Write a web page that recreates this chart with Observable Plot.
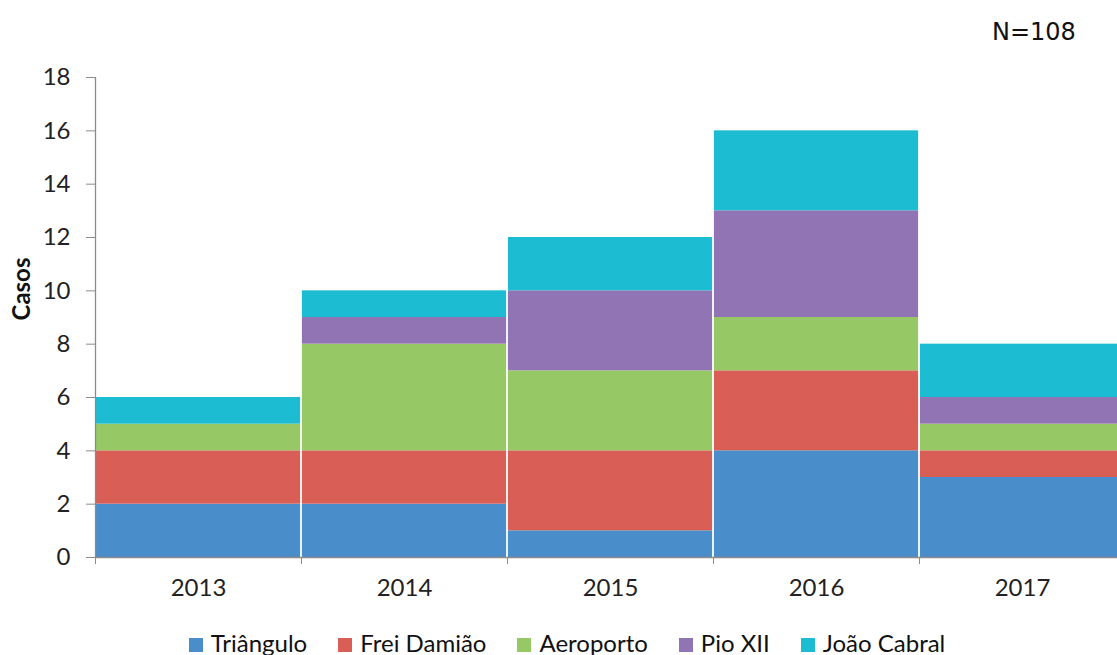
<!DOCTYPE html>
<html><head><meta charset="utf-8">
<script src="https://cdn.jsdelivr.net/npm/d3@7"></script>
<script src="https://cdn.jsdelivr.net/npm/@observablehq/plot@0.6"></script>
<style>
html,body{margin:0;padding:0;background:#fff;overflow:hidden;width:1117px;height:655px;}
#wrap{position:relative;width:1117px;height:655px;}
#n{position:absolute;left:992px;top:18px;font:24px "DejaVu Sans",sans-serif;color:#111;}
#legend{position:absolute;left:0;top:624px;width:1134px;height:36px;display:flex;justify-content:center;align-items:center;gap:31px;font:24px Lato,"Open Sans",sans-serif;color:#111;}
#legend span.sw{display:inline-block;width:14px;height:14px;margin-right:8px;vertical-align:0px;}
</style></head>
<body><div id="wrap"><div id="chart"></div><div id="n">N=108</div><div id="legend"></div></div>
<script>
const years = ["2013","2014","2015","2016","2017"];
const bairros = ["Triângulo","Frei Damião","Aeroporto","Pio XII","João Cabral"];
const colors = ["#4a8dcb","#d95f56","#96c966","#9174b3","#1cbdd3"];
const triangulo   = [2,2,1,4,3];
const freiDamiao  = [2,2,3,3,1];
const aeroporto   = [1,4,3,2,1];
const pioXII      = [0,1,3,4,1];
const joaoCabral  = [1,1,2,3,2];
const yTicks = [0,2,4,6,8,10,12,14,16,18];

const series = [triangulo, freiDamiao, aeroporto, pioXII, joaoCabral];
const data = [];
years.forEach((yr, i) => bairros.forEach((b, j) => data.push({i, year: yr, bairro: b, value: series[j][i]})));

const chart = Plot.plot({
  width: 1117, height: 626,
  marginTop: 77, marginBottom: 69, marginLeft: 95, marginRight: 0,
  style: {fontFamily: "Lato, 'Open Sans', sans-serif", fontSize: "24px", color: "#222", overflow: "hidden"},
  x: {type: "linear", domain: [0, years.length], range: [95, 1125]},
  y: {domain: [0, 18]},
  color: {domain: bairros, range: colors},
  marks: [
    Plot.rectY(data, {x: "i", interval: 1, y: "value", fill: "bairro", insetLeft: 0.9, insetRight: 0.9, order: bairros}),
    Plot.ruleX([0], {stroke: "#8c8c8c", strokeWidth: 1.3}),
    Plot.ruleY([0], {stroke: "#8c8c8c", strokeWidth: 1.3}),
    Plot.axisY({ticks: yTicks, tickSize: 9, tickPadding: 16, stroke: "#8c8c8c", fill: "#222", label: null, fontSize: 24}),
    Plot.axisX({ticks: d3.range(years.length + 1), tickSize: 7, tickFormat: () => "", stroke: "#8c8c8c", label: null}),
    Plot.axisX({ticks: years.map((_, i) => i + 0.5), tickSize: 0, tickPadding: 21, tickFormat: v => years[Math.floor(v)], fill: "#222", label: null, fontSize: 24}),
    Plot.text(["Casos"], {frameAnchor: "left", dx: -73, dy: 3, rotate: -90, fontWeight: "bold", fontSize: 24, fill: "#111"})
  ]
});
document.getElementById("chart").appendChild(chart);

const lg = document.getElementById("legend");
bairros.forEach((b, j) => {
  const it = document.createElement("div");
  it.innerHTML = `<span class="sw" style="background:${colors[j]}"></span>${b}`;
  lg.appendChild(it);
});
</script></body></html>
